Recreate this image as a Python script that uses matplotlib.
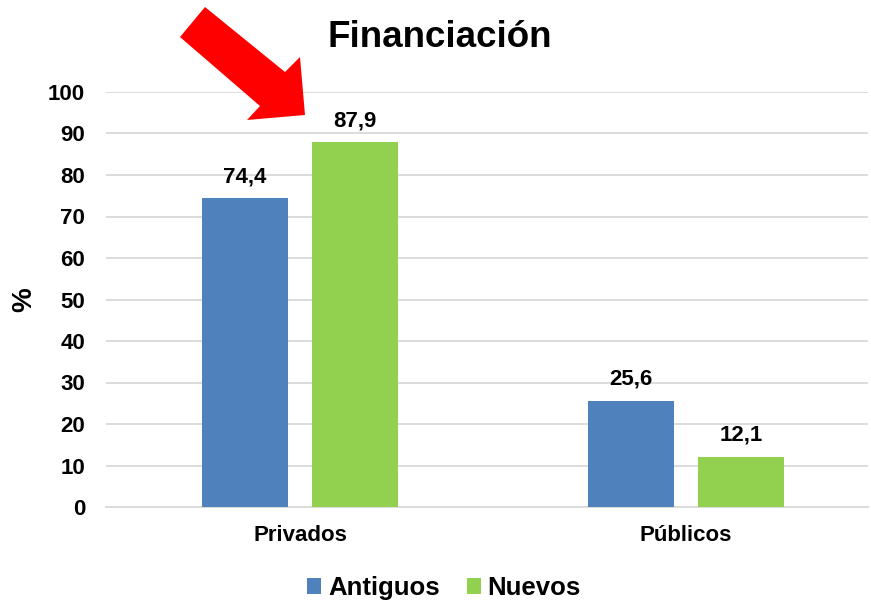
import matplotlib

matplotlib.use("Agg")

import matplotlib.pyplot as plt
import numpy as np
from matplotlib.patches import Polygon

categories = ["Privados", "Públicos"]
antiguos = [74.4, 25.6]
nuevos = [87.9, 12.1]
labels_antiguos = ["74,4", "25,6"]
labels_nuevos = ["87,9", "12,1"]
yticks = [0, 10, 20, 30, 40, 50, 60, 70, 80, 90, 100]

BLUE = "#4F81BD"
GREEN = "#92D050"
W, H = 871, 604

plt.rcParams["font.family"] = ["Liberation Sans", "DejaVu Sans"]
plt.rcParams["font.weight"] = "bold"

fig = plt.figure(figsize=(W / 100, H / 100), dpi=100)
ax = fig.add_axes([106 / W, 1 - 507 / H, (868 - 106) / W, (507 - 92) / H])

x = np.arange(len(categories))
width = 0.2228
offset = 0.1425
b1 = ax.bar(x - offset, antiguos, width, color=BLUE, label="Antiguos", zorder=3)
b2 = ax.bar(x + offset, nuevos, width, color=GREEN, label="Nuevos", zorder=3)

for bars, labels in ((b1, labels_antiguos), (b2, labels_nuevos)):
    for rect, text in zip(bars, labels):
        ax.annotate(text, (rect.get_x() + rect.get_width() / 2, rect.get_height()),
                    xytext=(0, 11.5), textcoords="offset points", ha="center", va="baseline",
                    fontsize=16, fontweight="bold")

ax.set_xlim(-0.503, 1.472)
ax.set_ylim(0, 100)
ax.set_yticks(yticks)
ax.set_xticks(x)
ax.set_xticklabels(categories)
ax.tick_params(axis="y", length=0, pad=15, labelsize=16)
ax.tick_params(axis="x", length=0, pad=13, labelsize=16)
ax.grid(axis="y", color="#d9d9d9", linewidth=1.3, zorder=0)
for side in ("top", "right", "left"):
    ax.spines[side].set_visible(False)
ax.spines["bottom"].set_color("#d9d9d9")
ax.spines["bottom"].set_linewidth(1.3)
ax.set_ylabel("%", fontsize=20, fontweight="bold", labelpad=8)

fig.text(440 / W, 1 - 47 / H, "Financiación", ha="center", va="baseline",
         fontsize=26.5, fontweight="bold")

ax.legend(loc="center", bbox_to_anchor=(444 / W, 1 - 588 / H), bbox_transform=fig.transFigure,
          ncol=2, frameon=False, fontsize=18.5, handlelength=0.55, handleheight=0.55,
          handletextpad=0.27, columnspacing=1.05, borderaxespad=0)

# red arrow pointing at the Nuevos bar
arrow_px = [(205, 7), (180, 37), (260, 106), (247, 120), (305, 115), (300, 57), (285, 72)]
arrow = Polygon([(px / W, 1 - py / H) for px, py in arrow_px], closed=True,
                transform=fig.transFigure, facecolor="#FF0000", edgecolor="none", zorder=10)
fig.patches.append(arrow)

fig.savefig("out.png", dpi=100)
